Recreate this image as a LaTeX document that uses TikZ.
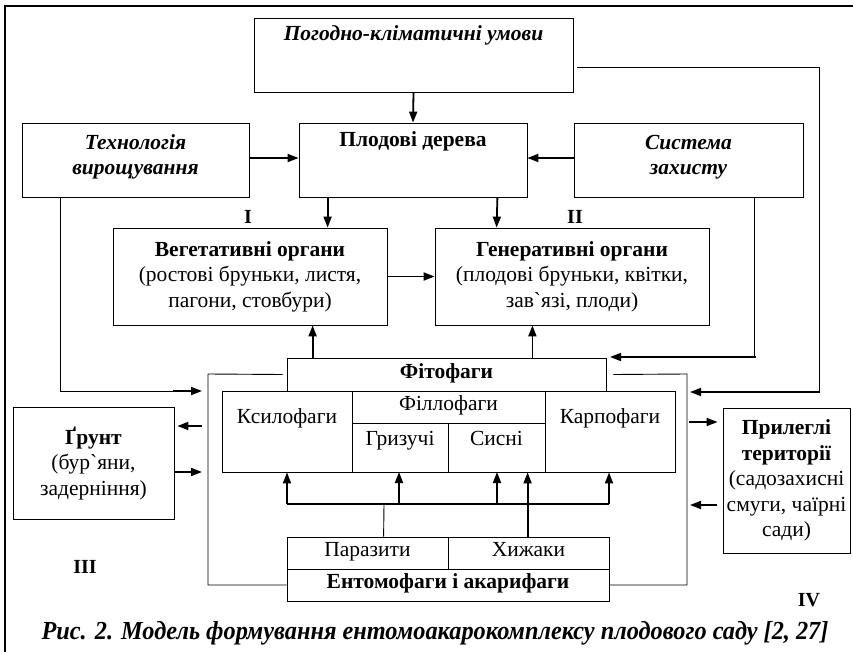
\documentclass[tikz,border=0pt]{standalone}
\usepackage{fontspec}
\setmainfont{Liberation Serif}
\newfontfamily\plainserif{Liberation Serif}
\usetikzlibrary{arrows.meta,calc}
\newcommand\bodyfs{\fontsize{21.5}{25.5}\selectfont}
\newcommand\capfs{\fontsize{26}{30}\selectfont}
\newcommand\grv{{\plainserif`}}
\begin{document}
\begin{tikzpicture}[x=1pt,y=-1pt,
  box/.style={draw,line width=0.8pt,inner sep=0pt,align=center,font=\bodyfs},
  txt/.style={inner sep=0pt,align=center,font=\bodyfs},
  oneline/.style={text height=10pt,text depth=3pt},
  thinline/.style={line width=0.9pt},
  arr/.style={line width=1.8pt,-{Triangle[length=11pt,width=8pt]}},
  barline/.style={line width=1.5pt},
  roman/.style={inner sep=0pt,font=\fontsize{20}{24}\selectfont\bfseries}]
\useasboundingbox (0,0) rectangle (853,652);
% outer frame
\draw[line width=1.6pt] (5,660) -- (5,6) -- (860,6);

% top boxes
\node[box,minimum width=319pt,minimum height=74pt] (pog) at (413.5,55) {};
\node[txt,oneline,font=\bodyfs\bfseries\itshape] (pogt) at (413.5,37) {Погодно-кліматичні умови};
\node[box,minimum width=227pt,minimum height=74pt] (tech) at (135.5,160) {};
\node[txt,font=\bodyfs\bfseries\itshape] (techt) at (135.5,157) {Технологія\\вирощування};
\node[box,minimum width=228pt,minimum height=74pt] (plod) at (413,160) {};
\node[txt,oneline,font=\bodyfs\bfseries] (plodt) at (413,143) {Плодові дерева};
\node[box,minimum width=229pt,minimum height=74pt] (sys) at (688.5,160) {};
\node[txt,font=\bodyfs\bfseries\itshape] (syst) at (688.5,157) {Система\\захисту};

\node[box,minimum width=274pt,minimum height=97pt] (veg) at (250,276.5) {\textbf{Вегетативні органи}\\(ростові бруньки, листя,\\пагони, стовбури)};
\node[box,minimum width=274pt,minimum height=97pt] (gen) at (572,276.5) {\textbf{Генеративні органи}\\(плодові бруньки, квітки,\\зав\grv язі, плоди)};

\node[roman] (r1) at (248,217) {I};
\node[roman] (r2) at (575,217) {II};
\node[roman] (r3) at (85,567) {III};
\node[roman] (r4) at (809,600) {IV};

% phytophages block
\node[box,oneline,minimum width=319pt,minimum height=33pt,font=\bodyfs\bfseries] (fit) at (446.5,374.5) {Фітофаги};
\node[box,minimum width=130pt,minimum height=81pt] (ksyl) at (287,431.5) {};
\node[txt,oneline] (ksylt) at (287,420) {Ксилофаги};
\node[box,oneline,minimum width=193pt,minimum height=32pt] (fill) at (448.5,407) {Філлофаги};
\node[box,minimum width=96pt,minimum height=49pt] (hryz) at (400,447.5) {};
\node[txt,oneline] (hryzt) at (400,442) {Гризучі};
\node[box,minimum width=97pt,minimum height=49pt] (sysn) at (496.5,447.5) {};
\node[txt,oneline] (sysnt) at (496.5,442) {Сисні};
\node[box,minimum width=130pt,minimum height=81pt] (karp) at (610,431.5) {};
\node[txt,oneline] (karpt) at (610,420) {Карпофаги};

% entomophages block
\node[box,oneline,minimum width=161pt,minimum height=32pt] (par) at (367.5,553) {Паразити};
\node[box,oneline,minimum width=161pt,minimum height=32pt] (khyzh) at (528.5,553) {Хижаки};
\node[box,oneline,minimum width=322pt,minimum height=32pt,font=\bodyfs\bfseries] (ent) at (448,585) {Ентомофаги і акарифаги};

% side boxes
\node[box,minimum width=161pt,minimum height=112pt] (hrunt) at (93.5,463) {\textbf{Ґрунт}\\(бур\grv яни,\\задерніння)};
\node[box,minimum width=127pt,minimum height=145pt] (pryl) at (786.5,480.5) {\textbf{Прилеглі}\\\textbf{території}\\(садозахисні\\смуги, чаїрні\\сади)};

% caption
\node[inner sep=0pt,font=\capfs\bfseries\itshape] (cap) at (435,633) {\scalebox{0.935}[1]{Рис. 2. Модель формування ентомоакарокомплексу плодового саду [2, 27]}};

% arrows among top boxes
\draw[arr] (pog.south) -- (plod.north);
\draw[arr] ($(tech.east)+(0,-2)$) -- ($(plod.west)+(0,-2)$);
\draw[arr] ($(sys.west)+(0,-2)$) -- ($(plod.east)+(0,-2)$);
\draw[arr] ($(plod.south west)+(29,0)$) -- ($(veg.north west)+(215,0)$);
\draw[arr] ($(plod.south east)+(-30,0)$) -- ($(gen.north west)+(62,0)$);
\draw[arr] (veg.east) -- (gen.west);
\draw[arr] ($(fit.north west)+(26,0)$) coordinate (fa) -- (fa |- veg.south);
\draw[arr] ($(fit.north east)+(-74,0)$) coordinate (fb) -- (fb |- gen.south);

% long side connectors
\coordinate (techend) at (202,391);
\draw[thinline] ($(tech.south west)+(39,0)$) |- (173,391);
\draw[arr] (173,391) -- (techend);
\coordinate (sysend) at (610,357);
\draw[thinline] ($(sys.south west)+(181,0)$) |- (740,357);
\draw[line width=1.6pt,-{Triangle[length=11pt,width=8pt]}] (756,357) -- (sysend);
\coordinate (pogend) at (690,392);
\draw[thinline] ($(pog.south east)+(4,-25)$) -| (819,392);
\draw[line width=1.6pt,-{Triangle[length=11pt,width=8pt]}] (819.5,392) -- (pogend);

% enclosing bracket
\draw[thinline] ($(fit.west)+(-4,0)$) -- (208,374) -- (208,585) -- (ent.west);
\draw[thinline] ($(fit.east)+(7,0)$) -- (687,374) -- (687,585) -- (ent.east);

% soil arrows
\coordinate (g1) at (202,426);
\coordinate (g2) at (202,472);
\draw[arr] (g1) -- ($(g1 -| hrunt.east)+(3,0)$);
\draw[arr] ($(g2 -| hrunt.east)$) -- (g2);
% adjacent territories arrows
\coordinate (p1) at (689,422);
\coordinate (p2) at (690,505);
\draw[arr] (p1) -- ($(p1 -| pryl.west)+(-5,0)$);
\draw[arr] ($(p2 -| pryl.west)+(-6,0)$) -- (p2);

% entomophage arrows
\coordinate (barL) at (287,504);
\coordinate (barR) at (609,504);
\draw[barline] (barL) -- (barR);
\draw[thinline] ($(par.north west)+(97,0)$) -- (384,504);
\draw[arr] (barL) -- (barL |- ksyl.south);
\draw[arr] (399,504) -- (399,472);
\draw[arr] (497,504) -- (497,472);
\draw[arr] (barR) -- (barR |- karp.south);
\draw[arr] ($(khyzh.north west)+(80,0)$) coordinate (kh) -- (kh |- sysn.south);
\end{tikzpicture}
\end{document}
